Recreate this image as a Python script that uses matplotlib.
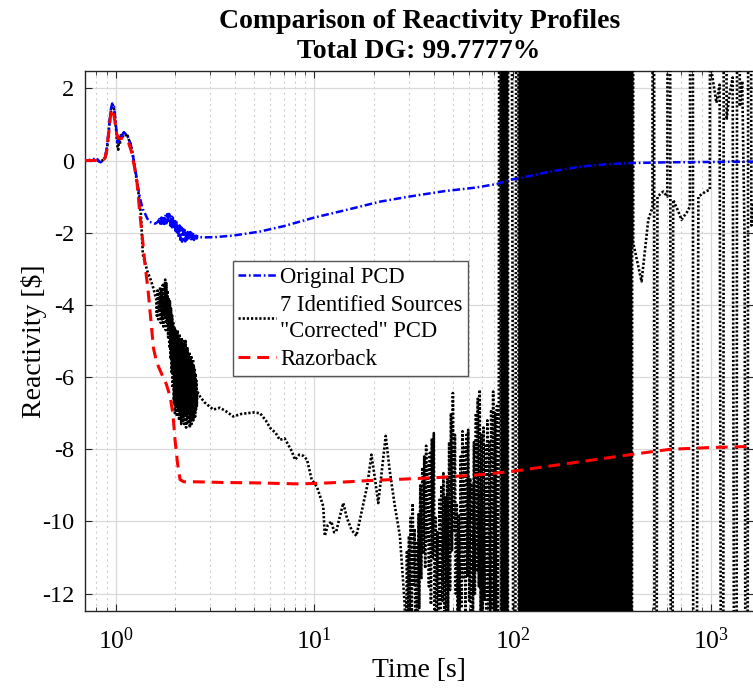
import matplotlib
matplotlib.use("Agg")
import matplotlib.pyplot as plt
from matplotlib.ticker import LogLocator, NullFormatter, FixedLocator

plt.rcParams['font.family'] = ['Liberation Serif', 'DejaVu Serif']
plt.rcParams['mathtext.fontset'] = 'custom'
plt.rcParams['mathtext.rm'] = 'Liberation Serif'
plt.rcParams['mathtext.it'] = 'Liberation Serif:italic'
plt.rcParams['mathtext.bf'] = 'Liberation Serif:bold'
plt.rcParams['axes.unicode_minus'] = False
plt.rcParams['lines.scale_dashes'] = False

# ---------------- data ----------------
# Original PCD
orig_t_start = [0.70, 0.72, 0.74, 0.76, 0.78, 0.80, 0.82, 0.84, 0.86, 0.88, 0.90, 0.92, 0.94,
                0.96, 0.98, 1.00, 1.02, 1.04, 1.06, 1.08, 1.10, 1.13, 1.16, 1.19, 1.22, 1.25,
                1.28, 1.31, 1.34, 1.37, 1.40, 1.44, 1.48, 1.53, 1.58, 1.63]
orig_v_start = [-0.02, 0.00, 0.02, -0.03, 0.05, 0.08, -0.02, -0.05, 0.00, 0.08, 0.30, 0.80, 1.35,
                1.58, 1.50, 1.05, 0.50, 0.70, 0.62, 0.72, 0.78, 0.72, 0.62, 0.45, 0.15, -0.20,
                -0.55, -0.90, -1.15, -1.35, -1.45, -1.60, -1.70, -1.72, -1.75, -1.70]
orig_t_noise = [1.66, 1.68, 1.70, 1.72, 1.74, 1.76, 1.78, 1.80, 1.82, 1.84,
                1.86, 1.88, 1.90, 1.92, 1.94, 1.96, 1.98, 2.00, 2.02, 2.04,
                2.06, 2.08, 2.10, 2.12, 2.14, 2.16, 2.18, 2.20, 2.22, 2.24,
                2.26, 2.28, 2.30, 2.32, 2.34, 2.36, 2.38, 2.40, 2.42, 2.44,
                2.46, 2.48, 2.50, 2.52, 2.54, 2.56, 2.58, 2.60]
orig_v_noise = [-1.62, -1.80, -1.58, -1.78, -1.55, -1.76, -1.50, -1.74, -1.45, -1.72,
                -1.48, -1.80, -1.52, -1.85, -1.58, -1.90, -1.62, -1.95, -1.70, -2.05,
                -1.75, -2.15, -1.80, -2.20, -1.85, -2.25, -1.90, -2.18, -1.92, -2.24,
                -1.95, -2.20, -1.98, -2.22, -2.00, -2.18, -1.98, -2.22, -2.02, -2.16,
                -2.04, -2.20, -2.05, -2.18, -2.08, -2.16, -2.10, -2.12]
orig_t_tail = [2.8, 3.2, 3.9, 5.3, 7.0, 10.0, 15.0, 21.4, 30.0, 45.0, 65.0, 83.0, 100.0,
               110.0, 150.0, 218.0, 300.0, 400.0, 600.0, 1000.0, 1620.0]
orig_v_tail = [-2.13, -2.12, -2.08, -1.97, -1.82, -1.58, -1.35, -1.14, -1.00, -0.85, -0.75,
               -0.65, -0.52, -0.48, -0.32, -0.17, -0.10, -0.07, -0.05, -0.04, -0.03]
orig_t = orig_t_start + orig_t_noise + orig_t_tail
orig_v = orig_v_start + orig_v_noise + orig_v_tail

# Razorback
razor_t = [0.70, 0.78, 0.85, 0.88, 0.90, 0.92, 0.94, 0.955, 0.97, 0.99, 1.01, 1.03, 1.05,
           1.08, 1.12, 1.16, 1.20, 1.24, 1.28, 1.32, 1.36, 1.40, 1.46, 1.55, 1.61, 1.70,
           1.80, 1.88, 1.94, 1.99, 2.05, 2.11, 2.2, 2.5, 3.5, 5.0, 8.5, 12.0, 18.3, 30.0,
           42.9, 70.0, 100.0, 160.0, 250.0, 388.0, 620.0, 1000.0, 1620.0]
razor_v = [0.00, 0.00, 0.00, 0.05, 0.25, 0.70, 1.20, 1.42, 1.40, 1.10, 0.75, 0.62, 0.60,
           0.62, 0.60, 0.50, 0.25, -0.15, -0.60, -1.40, -2.10, -2.80, -3.67, -5.20, -5.60, -5.90,
           -6.20, -6.54, -7.00, -7.74, -8.40, -8.84, -8.90, -8.90, -8.92, -8.93, -8.96, -8.93, -8.87, -8.82,
           -8.78, -8.70, -8.61, -8.45, -8.30, -8.15, -8.00, -7.95, -7.92]

# 7 Identified Sources "Corrected" PCD: start-up transient
corr_t_early = [0.70, 0.75, 0.80, 0.84, 0.87, 0.89, 0.91, 0.93, 0.95, 0.965, 0.98, 1.00,
                1.02, 1.03, 1.04, 1.05, 1.06, 1.08, 1.10, 1.12, 1.14, 1.16, 1.19, 1.22,
                1.25, 1.28, 1.31, 1.34, 1.37, 1.40, 1.45, 1.50, 1.55]
corr_v_early = [0.00, 0.00, 0.00, -0.02, 0.02, 0.10, 0.45, 1.00, 1.45, 1.55, 1.45, 1.00,
                0.40, 0.30, 0.65, 0.45, 0.70, 0.62, 0.78, 0.70, 0.75, 0.60, 0.45, 0.15,
                -0.20, -0.60, -1.00, -1.50, -2.60, -2.80, -3.10, -3.30, -3.55]

# noisy drop between 1.6 s and 2.6 s
corr_t_noise = [1.600, 1.6125, 1.625, 1.6375, 1.650, 1.6625, 1.675, 1.6875, 1.700, 1.7125,
                1.725, 1.7375, 1.750, 1.7625, 1.775, 1.7875, 1.800, 1.8125, 1.825, 1.8375,
                1.850, 1.8625, 1.875, 1.8875, 1.900, 1.9125, 1.925, 1.9375, 1.950, 1.9625,
                1.975, 1.9875, 2.000, 2.0125, 2.025, 2.0375, 2.050, 2.0625, 2.075, 2.0875,
                2.100, 2.1125, 2.125, 2.1375, 2.150, 2.1625, 2.175, 2.1875, 2.200, 2.2125,
                2.225, 2.2375, 2.250, 2.2625, 2.275, 2.2875, 2.300, 2.3125, 2.325, 2.3375,
                2.350, 2.3625, 2.375, 2.3875, 2.400, 2.4125, 2.425, 2.4375, 2.450, 2.4625,
                2.475, 2.4875, 2.500, 2.5125, 2.525, 2.5375, 2.550, 2.5625, 2.575]
corr_v_noise = [-3.85, -4.3, -3.6, -4.4, -3.7, -4.2, -3.5, -4.5, -3.6, -4.4,
                -3.45, -4.6, -3.4, -4.3, -3.3, -4.7, -3.4, -4.5, -3.6, -4.9,
                -3.8, -5.2, -3.9, -5.5, -4.1, -5.9, -4.3, -6.3, -4.5, -6.7,
                -4.6, -7.0, -4.7, -6.8, -4.8, -7.1, -4.7, -6.9, -4.9, -7.2,
                -4.8, -7.0, -5.0, -7.3, -4.9, -7.1, -5.1, -7.2, -5.0, -7.3,
                -5.2, -7.0, -5.0, -7.4, -5.3, -7.1, -5.2, -7.3, -5.4, -7.0,
                -5.3, -7.4, -5.5, -7.2, -5.4, -7.3, -5.6, -7.1, -5.5, -7.2,
                -5.7, -7.0, -5.8, -7.1, -5.9, -6.9, -6.1, -6.8, -6.4]

# slow drift between 2.7 s and 28 s
corr_t_mid = [2.66, 2.8, 3.1, 3.35, 3.6, 3.91, 4.3, 4.93, 5.33, 5.7, 6.0, 6.4, 6.7, 7.1,
              7.4, 7.7, 8.0, 8.4, 8.8, 9.2, 9.7, 10.3, 10.7, 11.1, 11.3, 11.7, 12.2, 12.6,
              12.9, 13.4, 14.0, 14.6, 15.4, 16.3, 16.9, 17.6, 18.5, 19.4, 20.2, 21.0, 21.9,
              22.9, 24.0, 25.5, 27.0, 28.5]
corr_v_mid = [-6.54, -6.70, -6.90, -6.85, -6.95, -7.09, -7.02, -6.98, -7.00, -7.20, -7.41,
              -7.55, -7.74, -7.70, -7.88, -8.05, -8.29, -8.15, -8.18, -8.29, -8.84, -9.03,
              -9.30, -9.58, -10.40, -10.10, -10.00, -10.30, -10.28, -9.90, -9.49, -9.90,
              -10.23, -10.40, -10.00, -9.54, -9.00, -8.15, -8.80, -9.49, -8.60, -7.63,
              -8.60, -9.60, -10.40, -12.25]

# growing oscillation before the solution diverges
corr_t_osc = [29.0, 29.3, 29.6, 30.0, 30.3, 30.6, 31.0, 31.3, 31.7, 32.0,
              32.4, 32.7, 33.1, 33.5, 33.8, 34.2, 34.6, 35.0, 35.4, 35.8,
              36.2, 36.6, 37.0, 37.4, 37.8, 38.2, 38.7, 39.1, 39.5, 40.0,
              40.4, 40.9, 41.3, 41.8, 42.3, 42.7, 43.2, 43.7, 44.2, 44.7,
              45.2, 45.7, 46.2, 46.7, 47.2, 47.8, 48.3, 48.8, 49.4, 49.9,
              50.5, 51.1, 51.6, 52.2, 52.8, 53.4, 54.0, 54.6, 55.2, 55.8,
              56.4, 57.0, 57.7, 58.3, 59.0, 59.6, 60.3, 61.0, 61.6, 62.3,
              63.0, 63.7, 64.4, 65.2, 65.9, 66.6, 67.4, 68.1, 68.9, 69.6,
              70.4, 71.2, 72.0, 72.8, 73.6, 74.4, 75.3, 76.1, 77.0, 77.8,
              78.7, 79.6, 80.5, 81.4, 82.3, 83.2, 84.1, 85.0]
corr_v_osc = [-13.5, -10.8, -13.2, -10.4, -12.6, -9.9, -12.9, -9.5, -11.8, -10.2,
              -13.5, -10.6, -13.5, -9.8, -12.4, -9.0, -11.6, -8.5, -10.9, -8.2,
              -11.3, -7.9, -10.6, -8.4, -11.8, -8.1, -12.3, -7.7, -11.0, -7.55,
              -12.6, -9.9, -13.5, -10.3, -13.5, -9.4, -12.8, -9.0, -12.2, -8.66,
              -12.9, -9.3, -13.5, -8.8, -12.6, -7.8, -11.9, -7.0, -10.8, -6.44,
              -10.3, -7.6, -12.0, -9.5, -13.5, -9.8, -13.2, -8.2, -12.4, -7.5,
              -11.6, -7.9, -12.8, -7.6, -11.5, -7.46, -12.2, -8.8, -13.5, -9.0,
              -12.6, -7.8, -12.0, -7.0, -11.4, -6.6, -11.8, -6.35, -12.5, -7.6,
              -13.5, -7.4, -12.2, -7.9, -13.5, -7.2, -12.8, -7.8, -13.5, -6.9,
              -12.4, -6.4, -13.0, -7.0, -12.6, -6.8, -13.5, -6.9]

# full-range swings after divergence
corr_t_div = [86.5, 87.5, 88.6, 89.7, 90.8, 91.9, 93.0, 94.1, 95.2, 100.0, 101.5,
              106.1, 107.5, 109.0, 110.7, 112.4, 114.0, 115.7, 117.4, 119.1, 120.8,
              122.6, 124.4, 126.2, 128.0, 129.9, 131.8, 133.7, 135.6, 137.6, 139.6,
              141.7, 143.7, 145.8, 147.9, 150.1, 152.3, 154.5, 156.8, 159.1, 161.4,
              163.8, 166.2, 168.6, 171.0, 173.5, 176.0, 178.6, 181.2, 183.9, 186.6,
              189.3, 192.1, 194.9, 197.7, 200.6, 203.5, 206.5, 209.5, 212.5, 215.6,
              218.8, 222.0, 225.2, 228.5, 231.8, 235.2, 238.7, 242.2, 245.7, 249.3,
              252.9, 256.6, 260.3, 264.1, 268.0, 271.9, 275.9, 279.9, 284.0, 288.1,
              292.3, 296.6, 300.9, 305.3, 309.8, 314.3, 318.9, 323.6, 328.3, 333.1,
              337.9, 342.8, 347.8, 352.9, 358.0, 363.3, 368.6, 374.0, 379.4, 385.0,
              390.6, 396.3, 402.0]
corr_v_div = [40, -40, 40, -40, 40, -40, 40, -40, 40, -6.8, -40,
              40, -40, 40, -40, 40, -40, 40, -40, 40, -40,
              40, -40, 40, -40, 40, -40, 40, -40, 40, -40,
              40, -40, 40, -40, 40, -40, 40, -40, 40, -40,
              40, -40, 40, -40, 40, -40, 40, -40, 40, -40,
              40, -40, 40, -40, 40, -40, 40, -40, 40, -40,
              40, -40, 40, -40, 40, -40, 40, -40, 40, -40,
              40, -40, 40, -40, 40, -40, 40, -40, 40, -40,
              40, -40, 40, -40, 40, -40, 40, -40, 40, -40,
              40, -40, 40, -40, 40, -40, 40, -40, 40, -40,
              40, -40, 40]

# sparse swings at late times
corr_t_late = [404, 445, 481, 505, 510, 520, 535, 572, 600, 612, 630, 642, 680, 707,
               760, 779, 800, 815, 860, 940, 982, 995, 1005, 1060, 1100, 1140, 1165,
               1193, 1230, 1280, 1330, 1360, 1390, 1430, 1470, 1510, 1550, 1590, 1620]
corr_v_late = [-2.29, -3.35, -1.64, -1.30, 40, -40, -1.00, -0.86, -1.00, 40, -40, -1.09,
               -1.40, -1.64, -1.40, -1.27, 40, -40, -1.00, -0.85, -0.81, 40, 2.42, 1.60,
               2.10, -40, 40, 1.13, 1.80, 2.30, -40, 40, 1.50, 2.20, -2.20, -40, 40, -1.80,
               -1.20]

corr_t = corr_t_early + corr_t_noise + corr_t_mid + corr_t_osc + corr_t_div + corr_t_late
corr_v = corr_v_early + corr_v_noise + corr_v_mid + corr_v_osc + corr_v_div + corr_v_late

legend_labels = ['Original PCD', '7 Identified Sources\n"Corrected" PCD', 'Razorback']
y_ticks = [-12, -10, -8, -6, -4, -2, 0, 2]

# ---------------- figure ----------------
fig = plt.figure(figsize=(7.53, 6.94), dpi=100)
ax = fig.add_axes([85.3 / 753, 83 / 694, (753 - 85.3) / 753, 540 / 694])

ax.plot(orig_t, orig_v, color='#0000ff', lw=1.8, linestyle=(0, (5.5, 2.0, 1.2, 2.0)),
        label=legend_labels[0], zorder=4.5)
ax.plot(corr_t, corr_v, color='black', lw=1.9, linestyle=(0, (1.6, 1.4)),
        label=legend_labels[1], zorder=4)
ax.plot(razor_t, razor_v, color='#ff0000', lw=2.2, linestyle=(0, (8.5, 5.0)),
        label=legend_labels[2], zorder=5)

ax.set_xscale('log')
ax.set_xlim(0.703, 1620)
ax.set_ylim(-12.48, 2.48)
ax.yaxis.set_major_locator(FixedLocator(y_ticks))
ax.xaxis.set_major_locator(LogLocator(base=10, numticks=10))
ax.xaxis.set_minor_locator(LogLocator(base=10, subs=range(2, 10), numticks=20))
ax.xaxis.set_minor_formatter(NullFormatter())

ax.grid(True, which='major', color='#d9d9d9', lw=0.9, linestyle='-')
ax.grid(True, which='minor', axis='x', color='#cccccc', lw=0.8, linestyle=(0, (1.5, 2.5)))
ax.set_axisbelow(True)

ax.tick_params(which='both', direction='in', top=True, right=True, colors='#262626',
               labelcolor='black')
ax.tick_params(which='major', length=5, width=0.8)
ax.tick_params(which='minor', length=3, width=0.6)
ax.tick_params(axis='x', which='major', pad=12, labelsize=18.5)
ax.tick_params(axis='y', which='major', pad=8, labelsize=17.5)
for s in ax.spines.values():
    s.set_color('#262626')
    s.set_linewidth(1.0)
ax.spines['right'].set_visible(False)

ax.set_xlabel('Time [s]', fontsize=20, labelpad=3)
ax.set_ylabel('Reactivity [$]', fontsize=20, labelpad=-4)
ax.set_title('Comparison of Reactivity Profiles\nTotal DG: 99.7777%', fontsize=20,
             fontweight='bold', linespacing=1.3, pad=9)

leg = ax.legend(loc='upper left', bbox_to_anchor=(0.2208, 0.648), borderaxespad=0,
                fontsize=16.3, fancybox=False, framealpha=1, edgecolor='#555555',
                handlelength=1.65, handletextpad=0.2, borderpad=0.25, labelspacing=0.3)
leg.get_frame().set_linewidth(1.0)
for txt in leg.get_texts():
    txt.set_linespacing(1.35)

fig.savefig('out.png', dpi=100, facecolor='white')
